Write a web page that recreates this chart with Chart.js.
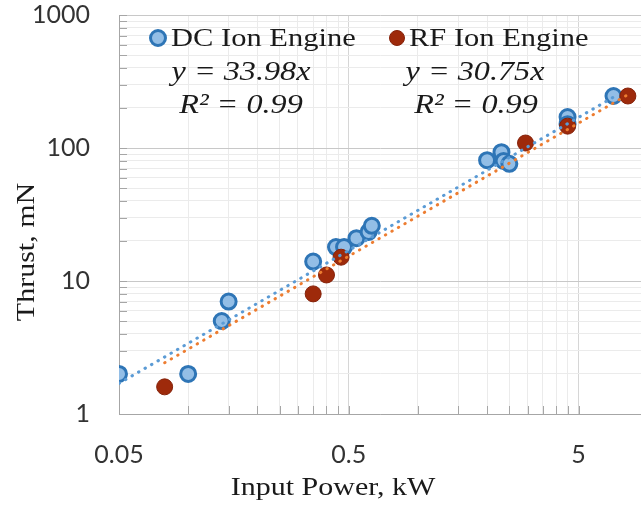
<!DOCTYPE html>
<html>
<head>
<meta charset="utf-8">
<script src="https://cdn.jsdelivr.net/npm/chart.js@4.4.0/dist/chart.umd.min.js"></script>
<style>
  html, body { margin: 0; padding: 0; background: #fff; overflow: hidden; }
  #wrap { width: 641px; height: 508px; overflow: hidden; }
</style>
</head>
<body>
<div id="wrap"><canvas id="chart" width="652" height="508"></canvas></div>
<script>
// DC ion engine measurements (input power kW, thrust mN)
const dcPower  = [0.05, 0.10, 0.14, 0.15, 0.35, 0.44, 0.477, 0.54, 0.61, 0.63, 2.0, 2.31, 2.36, 2.5, 4.48, 4.48, 7.1];
const dcThrust = [2.0, 2.0, 5.0, 7.0, 14, 18, 18, 21, 23.4, 26, 81, 93, 80, 76, 171, 151, 246];

// RF ion engine measurements
const rfPower  = [0.079, 0.35, 0.40, 0.463, 2.94, 4.48, 8.2];
const rfThrust = [1.6, 8.0, 11.1, 15.1, 109, 146, 246];

// trendline fits shown on the chart (y = k * x)
const dcSlope = 33.98;
const rfSlope = 30.75;

// axis ticks (Excel style log axes: x based on 0.05)
const xTicks = [0.05, 0.1, 0.15, 0.2, 0.25, 0.3, 0.35, 0.4, 0.45, 0.5,
                1, 1.5, 2, 2.5, 3, 3.5, 4, 4.5, 5];
const xLabels = [0.05, 0.5, 5];
const yTicks = [1, 2, 3, 4, 5, 6, 7, 8, 9, 10, 20, 30, 40, 50, 60, 70, 80, 90,
                100, 200, 300, 400, 500, 600, 700, 800, 900, 1000];
const yLabels = [1, 10, 100, 1000];

const DC_FILL = '#93bee6', DC_EDGE = '#2e75b6';
const RF_FILL = '#9e2a0b', RF_EDGE = '#85220a';

function toPoints(xs, ys) {
    return xs.map((x, i) => ({ x: x, y: ys[i] }));
}

function trend(xs, k) {
    const lo = Math.min(...xs), hi = Math.max(...xs);
    return [{ x: lo, y: k * lo }, { x: hi, y: k * hi }];
}

function stretchText(ctx, text, x, y, font, sx, align) {
    ctx.save();
    ctx.font = font;
    ctx.translate(x, y);
    ctx.scale(sx, 1);
    ctx.textAlign = align;
    ctx.textBaseline = 'middle';
    ctx.fillText(text, 0, 0);
    ctx.restore();
}

function marker(ctx, x, y, fill, edge, width) {
    ctx.save();
    ctx.beginPath();
    ctx.arc(x, y, 7.5, 0, Math.PI * 2);
    ctx.fillStyle = fill;
    ctx.fill();
    ctx.lineWidth = width;
    ctx.strokeStyle = edge;
    ctx.stroke();
    ctx.restore();
}

// drop the label overhang padding chart.js adds around the plot
function noPad(scale) {
    scale.paddingTop = 0;
    scale.paddingBottom = 0;
    scale.paddingLeft = 0;
    scale.paddingRight = 0;
}

// short inside tick marks along both axes
const innerTicks = {
    id: 'innerTicks',
    beforeDatasetsDraw(chart) {
        const { ctx, chartArea, scales } = chart;
        ctx.save();
        ctx.strokeStyle = '#a6a6a6';
        ctx.lineWidth = 1;
        ctx.beginPath();
        xTicks.forEach(v => {
            const px = Math.round(scales.x.getPixelForValue(v)) + 0.5;
            ctx.moveTo(px, chartArea.bottom);
            ctx.lineTo(px, chartArea.bottom - 8);
        });
        yTicks.forEach(v => {
            const py = Math.round(scales.y.getPixelForValue(v)) + 0.5;
            ctx.moveTo(chartArea.left, py);
            ctx.lineTo(chartArea.left + 8, py);
        });
        ctx.stroke();
        ctx.restore();
    }
};

// legend, fit equations and axis titles
const labels = {
    id: 'labels',
    afterDraw(chart) {
        const ctx = chart.ctx;
        ctx.save();
        ctx.fillStyle = '#1a1a1a';
        const serif = '"Liberation Serif", "Times New Roman", serif';

        marker(ctx, 158, 38, DC_FILL, DC_EDGE, 3);
        stretchText(ctx, 'DC Ion Engine', 171, 39, '25px ' + serif, 1.22, 'left');
        marker(ctx, 397, 38, RF_FILL, RF_EDGE, 1);
        stretchText(ctx, 'RF Ion Engine', 409, 39, '25px ' + serif, 1.22, 'left');

        stretchText(ctx, 'y = ' + dcSlope + 'x', 241, 73, 'italic 28px ' + serif, 1.15, 'center');
        stretchText(ctx, 'R² = 0.99', 241, 106, 'italic 28px ' + serif, 1.15, 'center');
        stretchText(ctx, 'y = ' + rfSlope + 'x', 475, 73, 'italic 28px ' + serif, 1.15, 'center');
        stretchText(ctx, 'R² = 0.99', 476, 106, 'italic 28px ' + serif, 1.15, 'center');

        stretchText(ctx, 'Input Power, kW', 333, 488, '25px ' + serif, 1.2, 'center');

        ctx.save();
        ctx.translate(27, 252);
        ctx.rotate(-Math.PI / 2);
        stretchText(ctx, 'Thrust, mN', 0, 0, '25px ' + serif, 1.2, 'center');
        ctx.restore();

        ctx.restore();
    }
};

Chart.defaults.font.family = 'Lato';

new Chart(document.getElementById('chart'), {
    type: 'scatter',
    data: {
        datasets: [
            {
                label: 'RF Ion Engine',
                data: toPoints(rfPower, rfThrust),
                backgroundColor: RF_FILL,
                borderColor: RF_EDGE,
                borderWidth: 1,
                pointRadius: 8,
                order: 1
            },
            {
                label: 'DC Ion Engine',
                data: toPoints(dcPower, dcThrust),
                backgroundColor: DC_FILL,
                borderColor: DC_EDGE,
                borderWidth: 3,
                pointRadius: 7.5,
                order: 2
            },
            {
                label: 'DC fit',
                data: trend(dcPower, dcSlope),
                showLine: true,
                borderColor: '#5b9bd5',
                borderWidth: 3,
                borderDash: [0.5, 7],
                borderCapStyle: 'round',
                pointRadius: 0,
                order: 0
            },
            {
                label: 'RF fit',
                data: trend(rfPower, rfSlope),
                showLine: true,
                borderColor: '#ed7d31',
                borderWidth: 3,
                borderDash: [0.5, 7],
                borderCapStyle: 'round',
                pointRadius: 0,
                order: 0
            }
        ]
    },
    options: {
        responsive: false,
        animation: false,
        devicePixelRatio: 1,
        layout: { padding: { top: 15, right: 0, left: 0, bottom: 0 } },
        plugins: {
            legend: { display: false },
            tooltip: { enabled: false }
        },
        scales: {
            x: {
                type: 'logarithmic',
                min: 0.05,
                max: 9.4,
                afterBuildTicks: scale => { scale.ticks = xTicks.map(v => ({ value: v })); },
                afterFit: scale => { scale.height = 94; noPad(scale); },
                ticks: {
                    autoSkip: false,
                    maxRotation: 0,
                    padding: 26,
                    color: '#333',
                    font: { size: 25 },
                    callback: v => xLabels.includes(v) ? String(v) : ''
                },
                grid: {
                    drawTicks: false,
                    color: c => (c.tick && xLabels.includes(c.tick.value)) ? '#d6d6d6' : '#ebebeb'
                },
                border: { color: '#a6a6a6' }
            },
            y: {
                type: 'logarithmic',
                min: 1,
                max: 1000,
                afterBuildTicks: scale => { scale.ticks = yTicks.map(v => ({ value: v })); },
                afterFit: scale => { scale.width = 119; noPad(scale); },
                ticks: {
                    autoSkip: false,
                    padding: 29,
                    color: '#333',
                    font: { size: 25 },
                    callback: v => yLabels.includes(v) ? String(v) : ''
                },
                grid: {
                    drawTicks: false,
                    color: c => (c.tick && yLabels.includes(c.tick.value)) ? '#c8c8c8' : '#ebebeb'
                },
                border: { color: '#a6a6a6' }
            }
        }
    },
    plugins: [innerTicks, labels]
});
</script>
</body>
</html>
